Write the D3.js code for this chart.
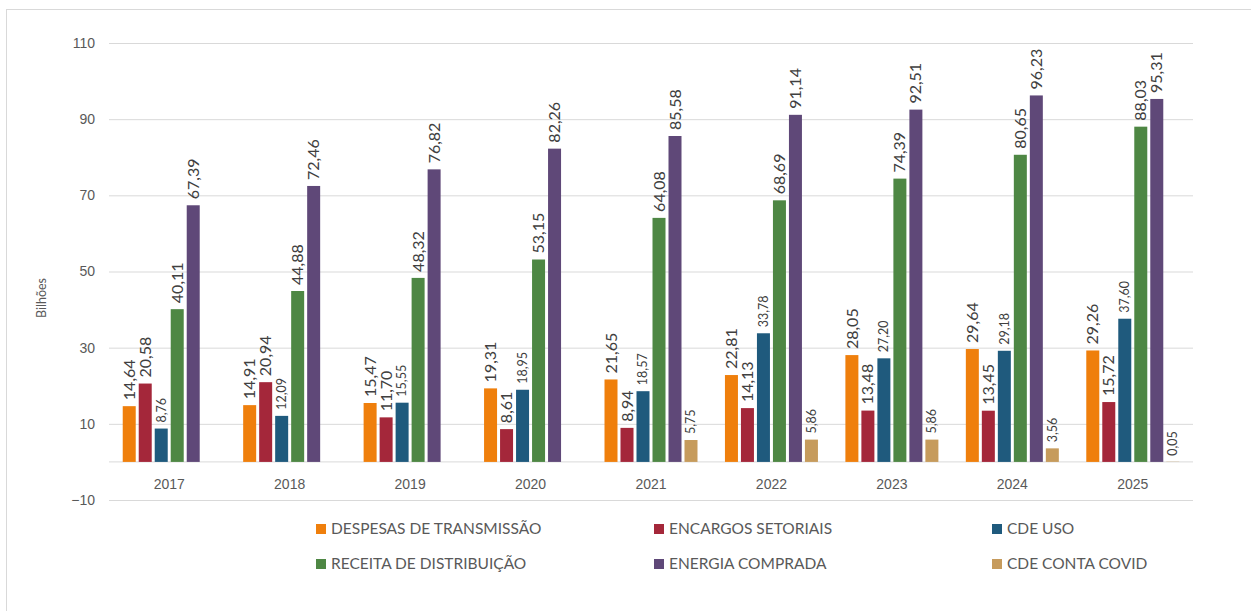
<!DOCTYPE html>
<html>
<head>
<meta charset="utf-8">
<script src="https://cdn.jsdelivr.net/npm/d3@7"></script>
<style>
	body { margin: 0; background: #fff; }
	svg { display: block; font-family: Lato, 'Open Sans', sans-serif; }
</style>
</head>
<body>
<div id="chart"></div>
<script>

const years = ['2017', '2018', '2019', '2020', '2021', '2022', '2023', '2024', '2025'];

const seriesNames = [
	'DESPESAS DE TRANSMISSÃO',
	'ENCARGOS SETORIAIS',
	'CDE USO',
	'RECEITA DE DISTRIBUIÇÃO',
	'ENERGIA COMPRADA',
	'CDE CONTA COVID'
];

const despesasTransmissao = [14.64, 14.91, 15.47, 19.31, 21.65, 22.81, 28.05, 29.64, 29.26];
const encargosSetoriais   = [20.58, 20.94, 11.70, 8.61, 8.94, 14.13, 13.48, 13.45, 15.72];
const cdeUso              = [8.76, 12.09, 15.55, 18.95, 18.57, 33.78, 27.20, 29.18, 37.60];
const receitaDistribuicao = [40.11, 44.88, 48.32, 53.15, 64.08, 68.69, 74.39, 80.65, 88.03];
const energiaComprada     = [67.39, 72.46, 76.82, 82.26, 85.58, 91.14, 92.51, 96.23, 95.31];
const cdeContaCovid       = [null, null, null, null, 5.75, 5.86, 5.86, 3.56, 0.05];

const yTicks = [-10, 10, 30, 50, 70, 90, 110];

const colors = ['#ef7f0c', '#a4273a', '#1f5a7d', '#4e8744', '#5f4878', '#c69b5c'];

class GroupedBars {

	constructor(selector){

		this.width = 1251;
		this.height = 611;

		this.plot = { left: 109, right: 1193, top: 43, bottom: 500 };

		this.svg = d3.select(selector).append('svg')
		.attr('width', this.width)
		.attr('height', this.height);

		this.scaleX = d3.scaleBand()
		.domain(years)
		.range([this.plot.left, this.plot.right])
		.paddingInner(0.203)
		.paddingOuter(0.1015);

		this.scaleSeries = d3.scaleBand()
		.domain(seriesNames)
		.range([0, this.scaleX.bandwidth()])
		.paddingInner(0.1875)
		.paddingOuter(0.09375);

		this.scaleY = d3.scaleLinear()
		.domain([-10, 110])
		.range([this.plot.bottom, this.plot.top]);

		this.scaleColor = d3.scaleOrdinal().domain(seriesNames).range(colors);
	}

	read(columns){
		// one row per year, one entry per series
		this.data = years.map((y, i) => {
			return {
				year: y,
				values: seriesNames.map((s, k) => ({ name: s, value: columns[k][i] }))
			};
		});
	}

	create(){

		let svg = this.svg;

		// frame of the chart area
		svg.append('rect')
		.attr('x', 6.5)
		.attr('y', 9.5)
		.attr('width', 1300)
		.attr('height', 700)
		.attr('fill', '#fff')
		.attr('stroke', '#d9d9d9');

		// gridlines
		let yAxis = svg.append('g')
		.attr('class', 'eixo-y')
		.attr('transform', `translate(${this.plot.left},0)`)
		.call(d3.axisLeft(this.scaleY)
			.tickValues(yTicks)
			.tickSize(-(this.plot.right - this.plot.left))
			.tickPadding(14)
			.tickFormat(d3.format('d')));

		yAxis.select('.domain').remove();
		yAxis.selectAll('line').attr('stroke', '#d9d9d9');
		yAxis.selectAll('text')
		.style('font-size', '14px')
		.style('fill', '#595959');

		// zero line
		svg.append('line')
		.attr('x1', this.plot.left)
		.attr('x2', this.plot.right)
		.attr('y1', this.scaleY(0))
		.attr('y2', this.scaleY(0))
		.attr('stroke', '#d9d9d9');

		// year labels
		let xAxis = svg.append('g')
		.attr('class', 'eixo-x')
		.attr('transform', `translate(0,${this.scaleY(0)})`)
		.call(d3.axisBottom(this.scaleX).tickSize(0).tickPadding(17));

		xAxis.select('.domain').remove();
		xAxis.selectAll('text')
		.style('font-size', '14px')
		.style('fill', '#595959');

		svg.append('text')
		.attr('transform', 'translate(46,298) rotate(-90)')
		.style('text-anchor', 'middle')
		.style('font-size', '12.5px')
		.style('fill', '#595959')
		.text('Bilhões');

		//--------------------------------------------------------------
		// Bars and value labels
		//--------------------------------------------------------------
		let fmt = (v) => d3.format('.2f')(v).replace('.', ',');
		let small = ['CDE USO', 'CDE CONTA COVID'];

		let groups = svg.append('g')
		.selectAll('g')
		.data(this.data)
		.enter().append('g')
		.attr('transform', (d) => `translate(${this.scaleX(d.year)},0)`);

		let bars = groups.selectAll('g')
		.data((d) => d.values.filter((v) => v.value != null))
		.enter().append('g');

		bars.append('rect')
		.attr('x', (d) => this.scaleSeries(d.name))
		.attr('y', (d) => this.scaleY(d.value))
		.attr('width', this.scaleSeries.bandwidth())
		.attr('height', (d) => this.scaleY(0) - this.scaleY(d.value))
		.attr('fill', (d) => this.scaleColor(d.name));

		bars.append('text')
		.attr('transform', (d) => {
			let x = this.scaleSeries(d.name) + this.scaleSeries.bandwidth() / 2;
			let y = this.scaleY(d.value) - 6;
			return `translate(${x},${y}) rotate(-90)`;
		})
		.attr('dy', '0.35em')
		.style('text-anchor', 'start')
		.style('font-size', (d) => small.includes(d.name) ? '12.5px' : '16px')
		.style('fill', '#404040')
		.text((d) => fmt(d.value));

		//--------------------------------------------------------------
		// Legend
		//--------------------------------------------------------------
		let legend = svg.selectAll('.legend')
		.data(seriesNames)
		.enter().append('g')
		.attr('class', 'legend')
		.attr('transform', (d, i) => `translate(${316 + (i % 3) * 338},${i < 3 ? 529 : 564})`);

		legend.append('rect')
		.attr('x', 0)
		.attr('y', -5)
		.attr('width', 10)
		.attr('height', 10)
		.style('fill', this.scaleColor);

		legend.append('text')
		.attr('x', 15)
		.attr('dy', '0.35em')
		.style('font-size', '15.5px')
		.style('fill', '#595959')
		.text((d) => d);
	}
}

let chart = new GroupedBars('#chart');
chart.read([despesasTransmissao, encargosSetoriais, cdeUso, receitaDistribuicao, energiaComprada, cdeContaCovid]);
chart.create();

</script>
</body>
</html>
